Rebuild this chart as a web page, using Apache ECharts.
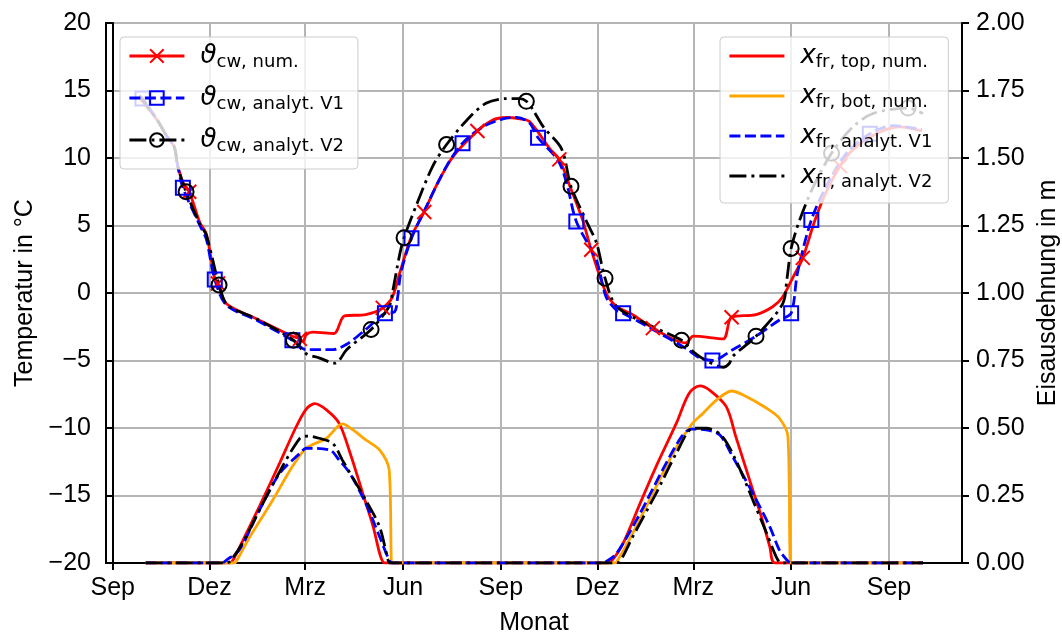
<!DOCTYPE html>
<html><head><meta charset="utf-8">
<script src="https://cdn.jsdelivr.net/npm/echarts@6/dist/echarts.min.js"></script>
<style>html,body{margin:0;padding:0;background:#fff}#c{width:1062px;height:634px}</style>
</head><body><div id="c"></div>
<script>
// x axis in days since 1 Sep (year 1)
const xTickDays = [0, 91, 181, 273, 365, 456, 546, 638, 730];
const xTickLabels = ['Sep', 'Dez', 'Mrz', 'Jun', 'Sep', 'Dez', 'Mrz', 'Jun', 'Sep'];

// Temperature (°C), [day, value]
const tempNum = [[25,14.5],[30,14.0],[42,12.8],[51,11.6],[58,10.8],[61,9.5],[66,8.2],[72,7.5],[82,5.2],[88,4.4],[96,1.1],[99,0.7],[107,-0.8],[135,-1.9],[169,-3.2],[176,-3.4],[179,-3.6],[182,-3.1],[188,-2.9],[208,-3.0],[218,-1.7],[238,-1.6],[254,-1.1],[263,-0.3],[270,1.5],[281,4.2],[293,6.0],[304,7.9],[320,10.1],[343,12.0],[357,12.8],[370,13.0],[383,12.9],[392,12.7],[411,10.7],[420,9.9],[430,7.9],[442,5.4],[450,3.2],[464,0.0],[474,-1.0],[489,-1.6],[508,-2.6],[539,-3.7],[546,-3.2],[574,-3.4],[582,-1.8],[605,-1.6],[621,-1.0],[630,-0.3],[640,1.2],[649,2.6],[660,5.3],[670,7.3],[684,9.4],[696,10.6],[718,11.8],[740,12.3],[761,12.0]];
const tempNumMarkDays = [72, 99, 176, 254, 293, 343, 420, 450, 508, 582, 649, 684];

const tempV1 = [[25,14.6],[28,14.4],[42,12.8],[51,11.6],[58,10.8],[61,9.5],[66,7.8],[82,5.0],[88,4.0],[96,1.0],[107,-0.9],[135,-2.0],[169,-3.5],[182,-4.2],[207,-4.2],[220,-3.8],[238,-2.7],[256,-1.5],[265,-1.4],[268,-0.3],[271,1.5],[281,4.05],[298,6.9],[314,9.4],[329,11.1],[348,12.3],[367,12.9],[380,13.0],[392,12.6],[400,11.5],[419,9.8],[427,8.1],[436,5.3],[455,2.4],[464,-0.3],[474,-1.3],[480,-1.5],[508,-2.7],[539,-4.1],[552,-4.8],[564,-5.0],[583,-4.2],[605,-3.2],[627,-2.0],[638,-1.5],[644,1.5],[657,5.4],[671,7.9],[690,10.35],[712,11.8],[734,12.4],[761,12.1]];
const tempV1MarkDays = [28, 66, 96, 169, 256, 281, 329, 400, 436, 480, 564, 638, 657, 712];

const tempV2 = [[25,14.6],[30,14.1],[42,12.8],[51,11.6],[58,10.8],[61,9.4],[69,7.5],[82,5.1],[88,4.3],[100,0.6],[108,-0.9],[135,-1.9],[170,-3.5],[182,-4.5],[194,-4.8],[209,-5.2],[213,-5.0],[220,-4.2],[243,-2.7],[260,-1.0],[263,0.0],[270,2.9],[274,4.1],[285,6.4],[301,9.4],[314,11.0],[333,12.8],[351,14.05],[370,14.4],[383,14.4],[389,14.2],[395,13.6],[405,12.3],[422,10.7],[431,7.9],[445,5.4],[455,3.7],[463,1.1],[474,-1.0],[508,-2.5],[535,-3.5],[546,-4.35],[558,-5.0],[574,-5.5],[580,-5.2],[583,-4.7],[605,-3.2],[630,-0.8],[634,1.0],[638,3.3],[646,5.4],[659,7.9],[676,10.35],[696,12.3],[715,13.3],[748,13.7],[762,13.3]];
const tempV2MarkDays = [69, 100, 170, 243, 274, 314, 389, 431, 463, 535, 605, 638, 676, 748];

// Frost depth (m), [day, value]
const frTopNum = [[31,0],[110,0],[113,0.01],[122,0.08],[138,0.21],[157,0.37],[172,0.5],[182,0.57],[190,0.59],[201,0.567],[213,0.517],[223,0.41],[235,0.26],[245,0.134],[252,0.023],[256,0],[466,0],[470,0.011],[480,0.073],[496,0.221],[511,0.357],[530,0.517],[542,0.628],[552,0.656],[561,0.641],[577,0.579],[586,0.468],[599,0.307],[611,0.159],[618,0.06],[623,0],[762,0]];
const frBotNum = [[31,0],[114,0],[116,0.005],[129,0.097],[150,0.23],[169,0.357],[182,0.425],[201,0.462],[216,0.515],[226,0.493],[238,0.456],[251,0.419],[260,0.344],[262,0.011],[263,0],[471,0],[474,0.005],[489,0.11],[508,0.258],[527,0.406],[544,0.511],[555,0.554],[568,0.604],[582,0.637],[593,0.622],[615,0.573],[627,0.536],[635,0.468],[637,0.011],[638,0],[762,0]];
const frV1 = [[31,0],[103,0],[107,0.011],[119,0.048],[138,0.196],[157,0.332],[176,0.406],[182,0.425],[204,0.419],[213,0.381],[223,0.332],[238,0.221],[251,0.097],[260,0.011],[263,0],[460,0],[464,0.005],[474,0.036],[496,0.184],[517,0.344],[535,0.468],[544,0.496],[558,0.493],[571,0.474],[583,0.394],[602,0.258],[618,0.134],[627,0.048],[634,0.011],[638,0],[762,0]];
const frV2 = [[31,0],[106,0],[110,0.005],[122,0.073],[138,0.196],[157,0.338],[176,0.462],[184,0.47],[194,0.462],[207,0.443],[216,0.381],[238,0.233],[251,0.134],[259,0.011],[261,0],[473,0],[477,0.005],[489,0.097],[511,0.258],[530,0.406],[546,0.499],[558,0.499],[572,0.474],[586,0.381],[602,0.233],[615,0.11],[624,0.023],[629,0],[762,0]];

const legendLabels = {
  tNum: '{m|ϑ}{s|cw, num.}',
  tV1: '{m|ϑ}{s|cw, analyt. V1}',
  tV2: '{m|ϑ}{s|cw, analyt. V2}',
  fTop: '{m|x}{s|fr, top, num.}',
  fBot: '{m|x}{s|fr, bot, num.}',
  fV1: '{m|x}{s|fr, analyt. V1}',
  fV2: '{m|x}{s|fr, analyt. V2}'
};

function withMarkers(points, markDays) {
  return points.map(p => markDays.indexOf(p[0]) >= 0 ? { value: p } : { value: p, symbol: 'none' });
}

const FONT = '"Liberation Sans", Arial, sans-serif';
const LW = 2.8;
const chart = echarts.init(document.getElementById('c'), null, { renderer: 'canvas' });

const legendCommon = {
  orient: 'vertical',
  itemWidth: 55,
  itemHeight: 17,
  itemGap: 14,
  padding: [6, 14, 14, 8],
  backgroundColor: 'rgba(255,255,255,0.8)',
  borderColor: '#cccccc',
  borderWidth: 1,
  borderRadius: 4,
  selectedMode: false,
  formatter: name => legendLabels[name],
  lineStyle: { width: LW },
  textStyle: {
    color: '#000',
    rich: {
      m: { fontFamily: 'DejaVu Sans', fontStyle: 'italic', fontSize: 26, color: '#000', padding: [0, 0, 0, 11] },
      s: { fontFamily: 'DejaVu Sans', fontSize: 18, color: '#000', padding: [12, 0, 0, 0] }
    }
  }
};

const hiddenSym = { symbol: 'circle', showSymbol: false, itemStyle: { color: 'rgba(0,0,0,0)', borderWidth: 0 } };
const SM = 0.3;

const option = {
  animation: false,
  backgroundColor: '#fff',
  grid: { left: 106, right: 100, top: 23, bottom: 71, outerBoundsMode: 'none', containLabel: false, show: true, borderColor: '#000', borderWidth: 2, backgroundColor: 'transparent' },
  legend: [
    Object.assign({}, legendCommon, { left: 120, top: 37, data: ['tNum', 'tV1', 'tV2'] }),
    Object.assign({}, legendCommon, { left: 720, top: 37, itemGap: 12, padding: [6, 16, 12, 8], data: ['fTop', 'fBot', 'fV1', 'fV2'] })
  ],
  xAxis: {
    type: 'value',
    min: -6.3,
    max: 798.7,
    name: 'Monat',
    nameLocation: 'middle',
    nameGap: 48,
    nameTextStyle: { fontFamily: FONT, fontSize: 25, color: '#000' },
    axisLine: { show: true, onZero: false, lineStyle: { color: '#000', width: 2 } },
    axisTick: { show: true, length: 7, lineStyle: { color: '#000', width: 2 }, customValues: xTickDays },
    axisLabel: { fontFamily: FONT, fontSize: 25, color: '#000', margin: 13, customValues: xTickDays,
      formatter: v => { const i = xTickDays.indexOf(v); return i >= 0 ? xTickLabels[i] : ''; } },
    splitLine: { show: true, lineStyle: { color: '#b5b5b5', width: 2 } }
  },
  yAxis: [
    {
      type: 'value', min: -20, max: 20, interval: 5, position: 'left',
      name: 'Temperatur in °C', nameLocation: 'middle', nameGap: 66,
      nameTextStyle: { fontFamily: FONT, fontSize: 25, color: '#000' },
      axisLine: { show: true, lineStyle: { color: '#000', width: 2 } },
      axisTick: { show: true, length: 7, lineStyle: { color: '#000', width: 2 } },
      axisLabel: { fontFamily: FONT, fontSize: 25, color: '#000', margin: 15, formatter: v => String(v).replace('-', '\u2212') },
      splitLine: { show: true, lineStyle: { color: '#b5b5b5', width: 2 } }
    },
    {
      type: 'value', min: 0, max: 2, interval: 0.25, position: 'right',
      name: 'Eisausdehnung in m', nameLocation: 'middle', nameGap: 70,
      nameTextStyle: { fontFamily: FONT, fontSize: 25, color: '#000' },
      axisLine: { show: true, lineStyle: { color: '#000', width: 2 } },
      axisTick: { show: true, length: 7, lineStyle: { color: '#000', width: 2 } },
      axisLabel: { fontFamily: FONT, fontSize: 25, color: '#000', margin: 14, formatter: v => v.toFixed(2) },
      splitLine: { show: false }
    }
  ],
  series: [
    {
      name: 'tNum', type: 'line', yAxisIndex: 0, data: withMarkers(tempNum, tempNumMarkDays),
      symbol: 'path://M0,0L10,10M0,10L10,0', symbolSize: 14, showSymbol: true, smooth: SM,
      lineStyle: { color: '#ff0000', width: LW },
      itemStyle: { color: 'rgba(0,0,0,0)', borderColor: '#ff0000', borderWidth: 2 }, z: 3
    },
    {
      name: 'tV1', type: 'line', yAxisIndex: 0, data: withMarkers(tempV1, tempV1MarkDays),
      symbol: 'rect', symbolSize: 14, showSymbol: true, smooth: SM,
      lineStyle: { color: '#0000ff', width: LW, type: [11, 4.5] },
      itemStyle: { color: 'rgba(0,0,0,0)', borderColor: '#0000ff', borderWidth: 2 }, z: 3
    },
    {
      name: 'tV2', type: 'line', yAxisIndex: 0, data: withMarkers(tempV2, tempV2MarkDays),
      symbol: 'circle', symbolSize: 15, showSymbol: true, smooth: SM,
      lineStyle: { color: '#000000', width: LW, type: [17, 5, 3, 5] },
      itemStyle: { color: 'rgba(0,0,0,0)', borderColor: '#000000', borderWidth: 2 }, z: 3
    },
    Object.assign({ name: 'fTop', type: 'line', yAxisIndex: 1, data: frTopNum, smooth: SM,
      lineStyle: { color: '#ff0000', width: LW }, z: 4 }, hiddenSym),
    Object.assign({ name: 'fBot', type: 'line', yAxisIndex: 1, data: frBotNum, smooth: SM,
      lineStyle: { color: '#ffa500', width: LW }, z: 4 }, hiddenSym),
    Object.assign({ name: 'fV1', type: 'line', yAxisIndex: 1, data: frV1, smooth: SM,
      lineStyle: { color: '#0000ff', width: LW, type: [11, 4.5] }, z: 4 }, hiddenSym),
    Object.assign({ name: 'fV2', type: 'line', yAxisIndex: 1, data: frV2, smooth: SM,
      lineStyle: { color: '#000000', width: LW, type: [17, 5, 3, 5] }, z: 4 }, hiddenSym)
  ]
};
chart.setOption(option);
</script>
</body></html>
